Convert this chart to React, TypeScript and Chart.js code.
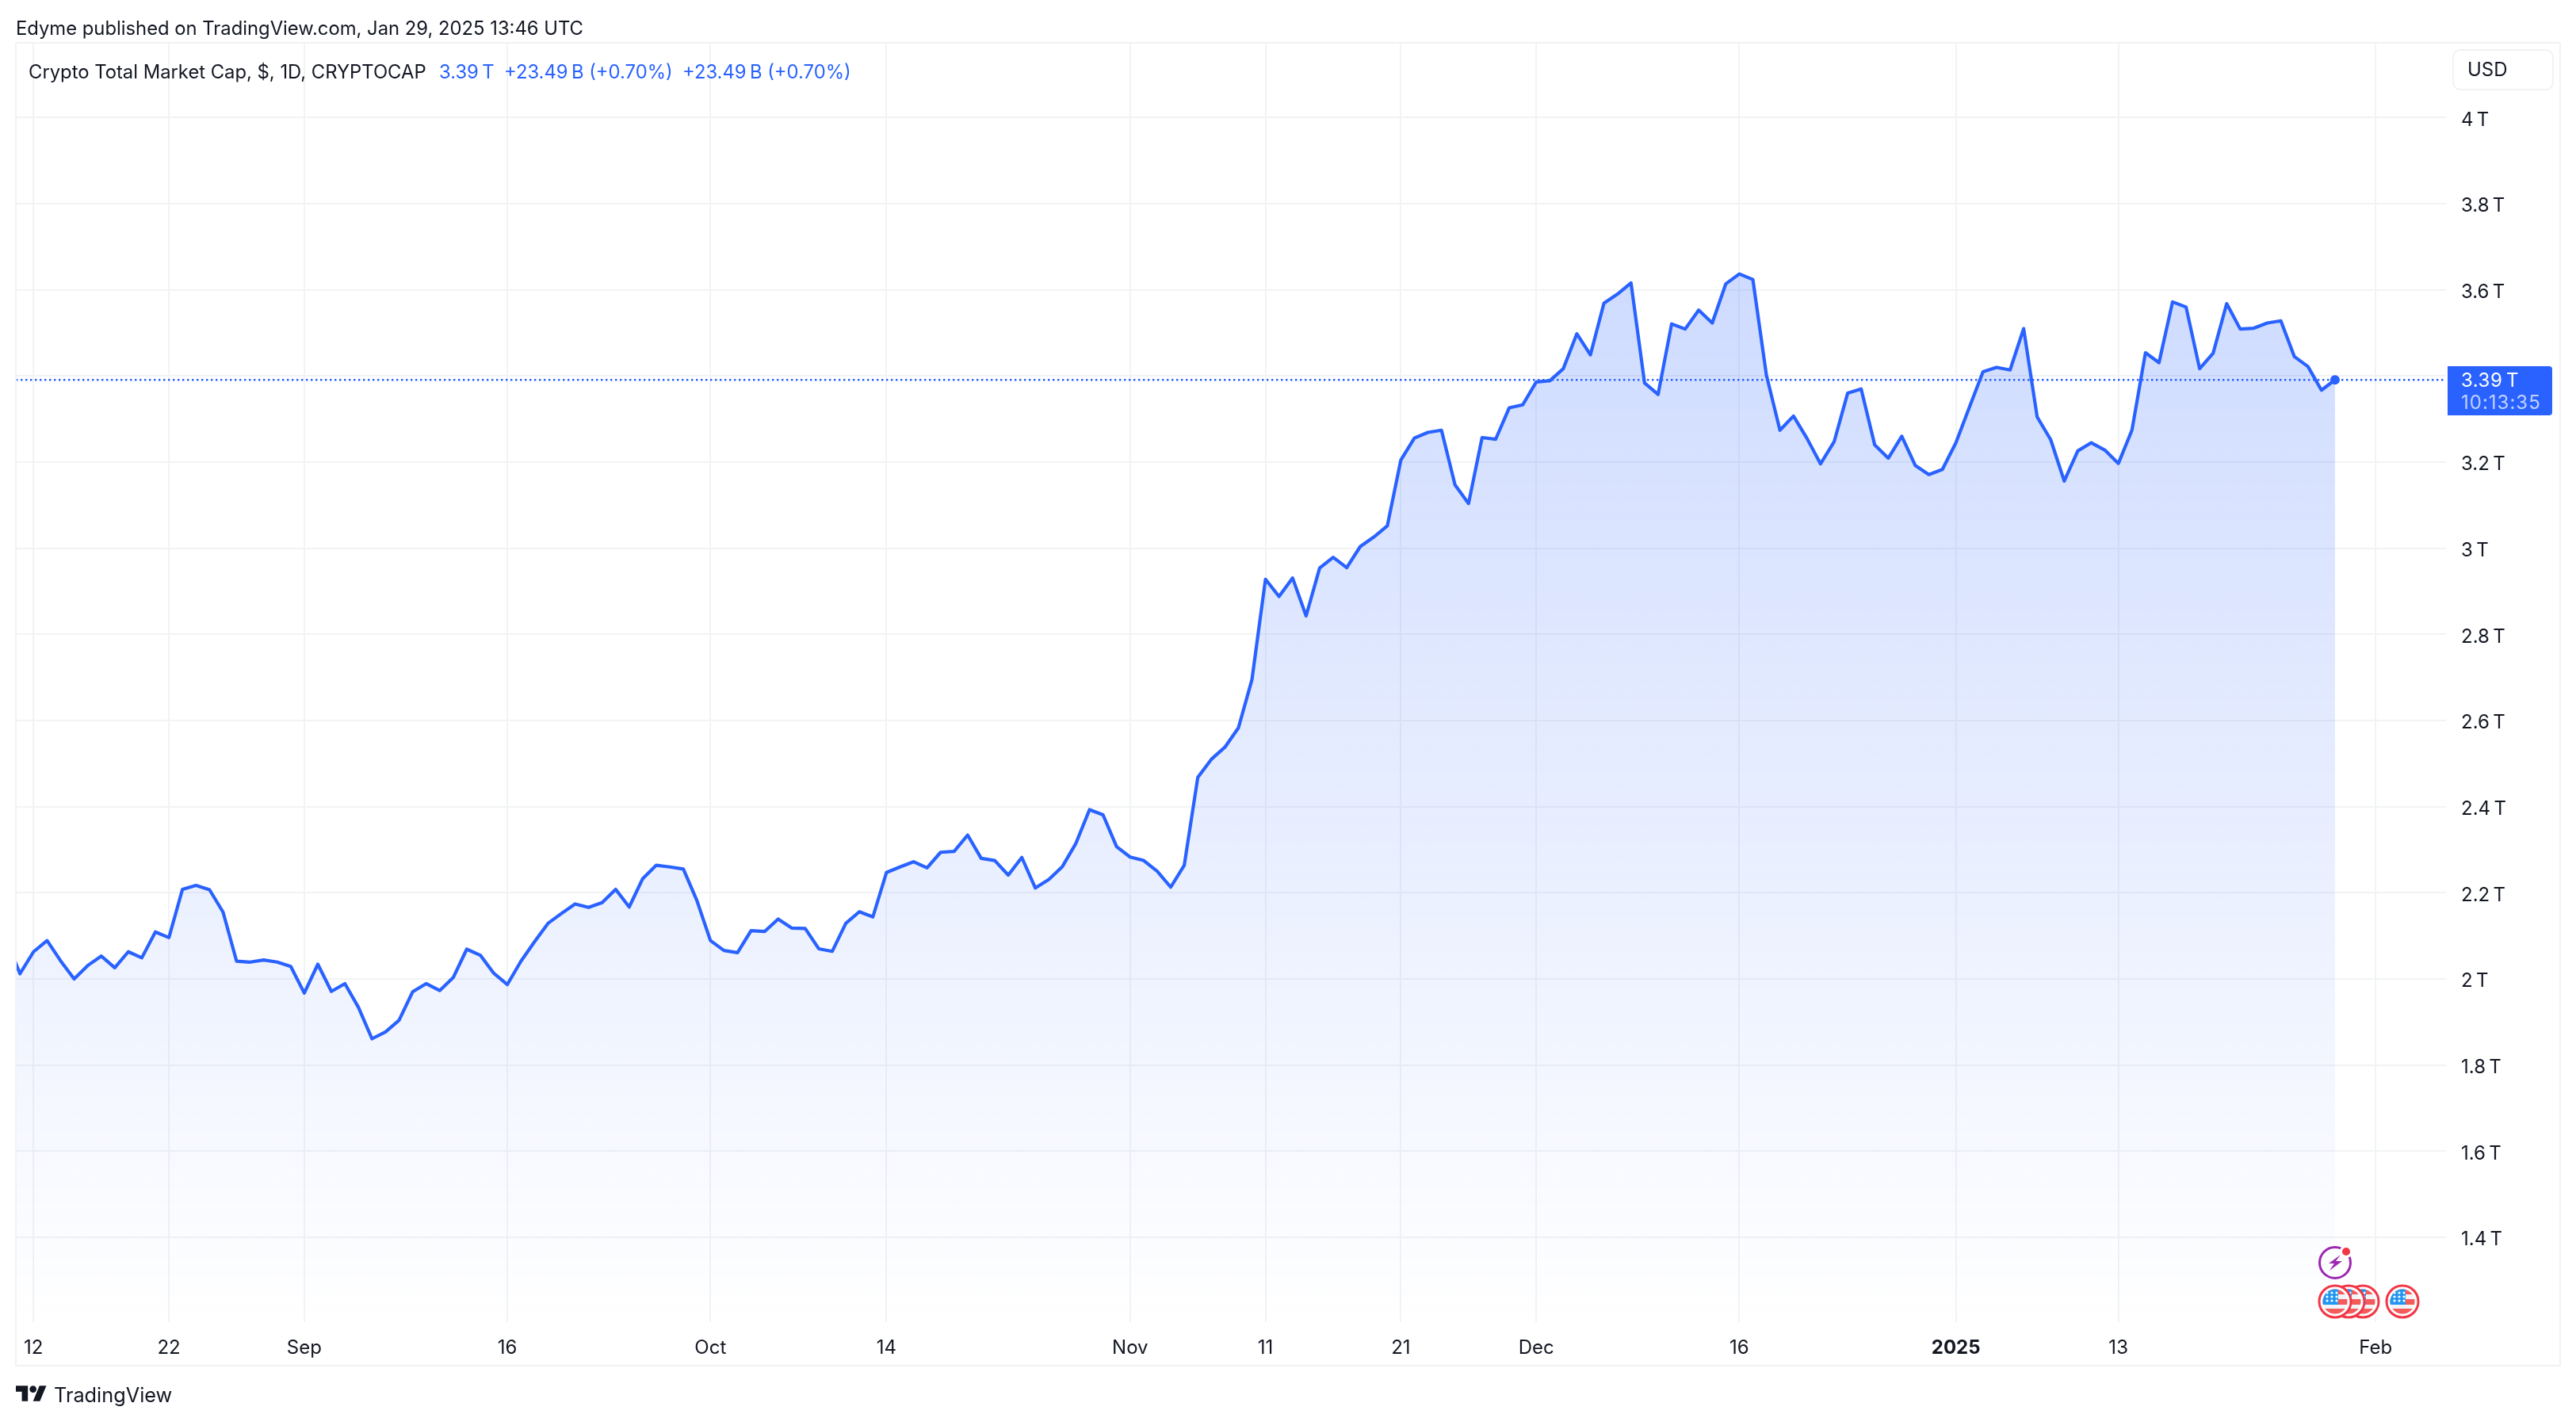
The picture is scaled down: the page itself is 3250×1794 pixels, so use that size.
import React, { useEffect, useRef } from "react";
import { Chart, registerables } from "chart.js";

Chart.register(...registerables);

// Daily closes in trillions of USD, one per day from 2024-08-10 to 2025-01-29.
const augValues = [2.09, 2.012, 2.063, 2.089, 2.042, 2.0, 2.031, 2.053, 2.026, 2.063, 2.049, 2.109, 2.096, 2.208, 2.217, 2.207, 2.155, 2.041, 2.039, 2.044, 2.039, 2.029];
const sepValues = [1.967, 2.034, 1.971, 1.989, 1.934, 1.861, 1.877, 1.904, 1.97, 1.989, 1.973, 2.003, 2.069, 2.055, 2.013, 1.987, 2.041, 2.086, 2.129, 2.152, 2.174, 2.166, 2.177, 2.208, 2.167, 2.233, 2.264, 2.26, 2.255, 2.182];
const octValues = [2.089, 2.066, 2.061, 2.112, 2.11, 2.139, 2.118, 2.117, 2.07, 2.064, 2.129, 2.156, 2.144, 2.247, 2.26, 2.272, 2.258, 2.294, 2.296, 2.334, 2.28, 2.275, 2.241, 2.282, 2.211, 2.231, 2.261, 2.315, 2.393, 2.381, 2.307];
const novValues = [2.283, 2.275, 2.25, 2.213, 2.264, 2.468, 2.51, 2.538, 2.583, 2.695, 2.928, 2.888, 2.931, 2.843, 2.954, 2.979, 2.955, 3.004, 3.026, 3.052, 3.205, 3.256, 3.269, 3.274, 3.147, 3.104, 3.257, 3.253, 3.326, 3.333];
const decValues = [3.386, 3.389, 3.417, 3.498, 3.449, 3.569, 3.59, 3.616, 3.384, 3.357, 3.521, 3.509, 3.553, 3.523, 3.614, 3.637, 3.624, 3.402, 3.274, 3.307, 3.255, 3.196, 3.247, 3.36, 3.37, 3.24, 3.209, 3.26, 3.192, 3.171, 3.183];
const janValues = [3.245, 3.328, 3.41, 3.42, 3.414, 3.51, 3.305, 3.252, 3.156, 3.226, 3.245, 3.228, 3.197, 3.274, 3.454, 3.431, 3.572, 3.56, 3.417, 3.453, 3.568, 3.509, 3.511, 3.523, 3.528, 3.445, 3.422, 3.367, 3.391];
const values = [...augValues, ...sepValues, ...octValues, ...novValues, ...decValues, ...janValues];

// Day offsets from 2024-08-10 for the time-axis labels.
const xTickDays = [2, 12, 22, 37, 52, 65, 83, 93, 103, 113, 128, 144, 156, 175];
const xTickLabels = ["12", "22", "Sep", "16", "Oct", "14", "Nov", "11", "21", "Dec", "16", "2025", "13", "Feb"];
const yTicks = [1.4, 1.6, 1.8, 2, 2.2, 2.4, 2.6, 2.8, 3, 3.2, 3.4, 3.6, 3.8, 4];
const yTickKeep = [1.4, 1.6, 1.8, 2, 2.2, 2.4, 2.6, 2.8, 3, 3.2, 3.6, 3.8, 4];

const X_MIN = 0.694;
const X_MAX = 180.2;
const Y_MIN = 1.203;
const Y_MAX = 4.1755;

const BLUE = "#2962FF";
const GRID = "#f2f3f5";
const INK = "#131722";
const FONT = "Inter, sans-serif";
const NNBSP = "\u202F";

function Flag({ cx, cy }: { cx: number; cy: number }) {
  const id = `flag-${cx}`;
  return (
    <g>
      <circle cx={cx} cy={cy} r={20} fill="#ffffff" stroke="#F23645" strokeWidth={3} />
      <clipPath id={id}>
        <circle cx={cx} cy={cy} r={15.5} />
      </clipPath>
      <g clipPath={`url(#${id})`}>
        <rect x={cx - 16} y={cy - 16} width={32} height={32} fill="#f4f4f6" />
        <rect x={cx - 16} y={cy - 16} width={32} height={7} fill="#F45B5B" />
        <rect x={cx - 16} y={cy - 3} width={32} height={7} fill="#F45B5B" />
        <rect x={cx - 16} y={cy + 9} width={32} height={8} fill="#F45B5B" />
        <rect x={cx - 16} y={cy - 16} width={20} height={20} fill="#2196F3" />
        {[-10, -5, 0].map((dy) =>
          [-10, -4, 2].map((dx) => <circle key={`${dx}${dy}`} cx={cx + dx} cy={cy + dy - 1} r={1.6} fill="#ffffff" />)
        )}
      </g>
    </g>
  );
}

function textStyle(left: number, top: number, size: number, color: string, spacing = 0): React.CSSProperties {
  return {
    position: "absolute",
    left,
    top,
    fontFamily: FONT,
    fontSize: size,
    lineHeight: "32px",
    letterSpacing: spacing,
    color,
    whiteSpace: "nowrap",
  };
}

export default function App() {
  const ref = useRef<HTMLCanvasElement | null>(null);

  useEffect(() => {
    document.body.style.margin = "0";
    const last = values[values.length - 1];
    const chart = new Chart(ref.current as HTMLCanvasElement, {
      type: "line",
      data: {
        datasets: [
          {
            data: values.map((v, i) => ({ x: i, y: v })),
            borderColor: BLUE,
            borderWidth: 4.2,
            borderJoinStyle: "round",
            tension: 0,
            fill: "start",
            backgroundColor: (ctx: any) => {
              const area = ctx.chart.chartArea;
              if (!area) return "rgba(41,98,255,0.1)";
              const g = ctx.chart.ctx.createLinearGradient(0, area.top, 0, area.bottom);
              g.addColorStop(0, "rgba(41,98,255,0.28)");
              g.addColorStop(1, "rgba(41,98,255,0)");
              return g;
            },
            pointRadius: (ctx: any) => (ctx.dataIndex === values.length - 1 ? 6 : 0),
            pointBackgroundColor: BLUE,
            pointBorderWidth: 0,
            order: 1,
          },
          {
            data: [
              { x: X_MIN, y: last },
              { x: X_MAX, y: last },
            ],
            borderColor: BLUE,
            borderWidth: 2.4,
            borderDash: [2.4, 3.6],
            pointRadius: 0,
            fill: false,
            order: 2,
          },
        ],
      },
      options: {
        responsive: false,
        animation: false,
        devicePixelRatio: 1,
        events: [],
        layout: { padding: { left: 20, top: 53, right: 20, bottom: 71 } },
        plugins: { legend: { display: false }, tooltip: { enabled: false }, title: { display: false } },
        scales: {
          x: {
            type: "linear",
            min: X_MIN,
            max: X_MAX,
            afterFit: (s: any) => {
              s.height = 55;
            },
            afterBuildTicks: (s: any) => {
              s.ticks = xTickDays.map((value) => ({ value }));
            },
            border: { display: false },
            grid: { color: GRID, lineWidth: 2, drawTicks: false },
            ticks: {
              autoSkip: false,
              maxRotation: 0,
              padding: 18,
              color: INK,
              font: (ctx: any) => ({
                family: FONT,
                size: 24,
                weight: ctx.tick && ctx.tick.label === "2025" ? "bold" : "normal",
              }),
              callback: (v: any) => {
                const k = xTickDays.indexOf(v);
                return k >= 0 ? xTickLabels[k] : "";
              },
            },
          },
          y: {
            type: "linear",
            position: "right",
            min: Y_MIN,
            max: Y_MAX,
            afterFit: (s: any) => {
              s.width = 144;
            },
            afterBuildTicks: (s: any) => {
              s.ticks = yTicks.map((value) => ({ value }));
            },
            border: { display: false },
            grid: { color: GRID, lineWidth: 2, drawTicks: false },
            ticks: {
              autoSkip: false,
              padding: 19,
              labelOffset: 3,
              color: INK,
              font: { family: FONT, size: 24 },
              callback: (v: any) => (yTickKeep.includes(v) ? `${v}${NNBSP}T` : ""),
            },
          },
        },
      },
    } as any);
    return () => chart.destroy();
  }, []);

  return (
    <div style={{ position: "absolute", left: 0, top: 0, width: 3250, height: 1794, background: "#ffffff", overflow: "hidden" }}>
      <canvas ref={ref} width={3250} height={1794} style={{ position: "absolute", left: 0, top: 0, width: 3250, height: 1794 }} />

      <div style={{ position: "absolute", left: 19, top: 53, width: 3212, height: 1671, boxSizing: "border-box", border: "2px solid #f2f2f2" }} />

      <div style={textStyle(20, 20, 23.8, INK)}>Edyme published on TradingView.com, Jan 29, 2025 13:46 UTC</div>
      <div style={textStyle(36, 75, 23.8, INK)}>Crypto Total Market Cap, $, 1D, CRYPTOCAP</div>
      <div style={textStyle(554, 75, 23.8, BLUE)}>{`3.39${NNBSP}T`}</div>
      <div style={textStyle(636, 75, 23.8, BLUE)}>{`+23.49${NNBSP}B (+0.70%)`}</div>
      <div style={textStyle(861, 75, 23.8, BLUE)}>{`+23.49${NNBSP}B (+0.70%)`}</div>

      <div style={{ position: "absolute", left: 3094, top: 62, width: 128, height: 52, boxSizing: "border-box", border: "2px solid #f2f2f2", borderRadius: 10, background: "#ffffff" }} />
      <div style={textStyle(3113, 72, 24, INK)}>USD</div>

      <div style={{ position: "absolute", left: 3088, top: 462, width: 132, height: 62, background: BLUE, borderRadius: "0 4px 4px 0" }} />
      <div style={textStyle(3105, 464, 24, "#ffffff", 0.5)}>{`3.39${NNBSP}T`}</div>
      <div style={textStyle(3105, 492, 24, "rgba(255,255,255,0.7)", 1)}>10:13:35</div>

      <svg width={3250} height={1794} style={{ position: "absolute", left: 0, top: 0, pointerEvents: "none" }}>
        <circle cx={2946} cy={1593} r={19.5} fill="none" stroke="#9C27B0" strokeWidth={3} />
        <circle cx={2960} cy={1579} r={8} fill="#ffffff" />
        <circle cx={2960} cy={1579} r={5} fill="#F23645" />
        <path d="M2953 1583 L2938 1594 L2945 1594 L2939 1603 L2955 1591 L2947 1591 Z" fill="#9C27B0" />
        <Flag cx={2981} cy={1642} />
        <Flag cx={2963} cy={1642} />
        <Flag cx={2946} cy={1642} />
        <Flag cx={3031} cy={1642} />
        <svg x={20} y={1748} width={39} height={20} viewBox="0 4 36 18">
          <path d="M14 22H7V11H0V4h14v18zM28 22h-8l7.5-18h8L28 22z" fill={INK} />
          <circle cx={20} cy={8} r={4} fill={INK} />
        </svg>
      </svg>
      <div style={textStyle(68, 1744, 25.3, INK)}>TradingView</div>
    </div>
  );
}
